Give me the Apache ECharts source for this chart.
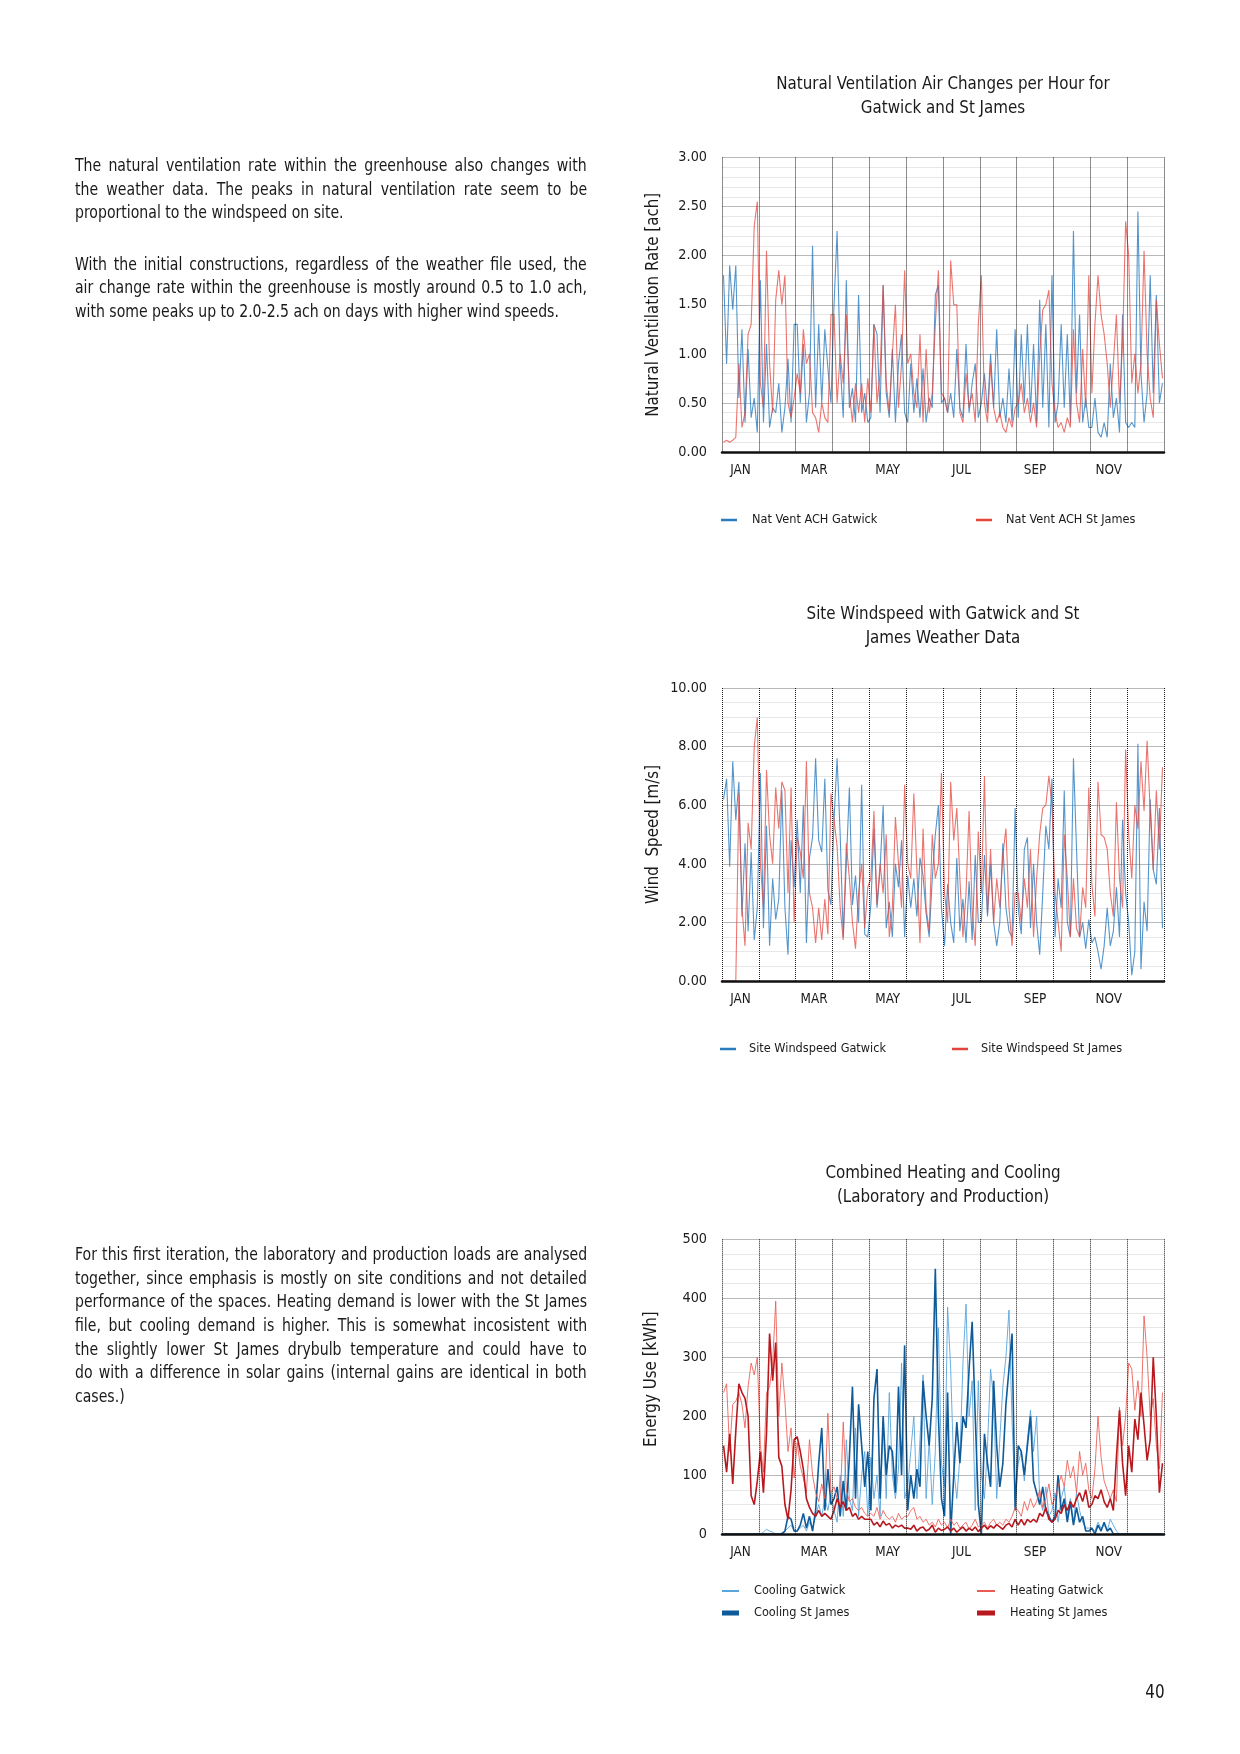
<!DOCTYPE html>
<html>
<head>
<meta charset="utf-8">
<script src="https://cdn.jsdelivr.net/npm/echarts@6/dist/echarts.min.js"></script>
<style>
html,body{margin:0;padding:0;background:#fff;}
#page{position:relative;width:1240px;height:1754px;overflow:hidden;background:#fff;}
#chart{position:absolute;left:0;top:0;width:1240px;height:1754px;}
.para{position:absolute;left:75px;width:512px;color:#1a1a1a;font-size:19px;}
.ln{height:23.6px;line-height:23.6px;white-space:nowrap;}
.ln > span{display:inline-block;transform-origin:0 50%;}
#pnum{position:absolute;left:1125px;width:60px;text-align:center;top:1679px;font-size:21px;line-height:26px;color:#1a1a1a;}
</style>
</head>
<body>
<div id="page">
  <div id="chart"></div>
  <div class="para" style="top:153.2px">
    <div class="ln j"><span>The natural ventilation rate within the greenhouse also changes with</span></div>
    <div class="ln j"><span>the weather data. The peaks in natural ventilation rate seem to be</span></div>
    <div class="ln"><span>proportional to the windspeed on site.</span></div>
  </div>
  <div class="para" style="top:251.7px">
    <div class="ln j"><span>With the initial constructions, regardless of the weather file used, the</span></div>
    <div class="ln j"><span>air change rate within the greenhouse is mostly around 0.5 to 1.0 ach,</span></div>
    <div class="ln"><span>with some peaks up to 2.0-2.5 ach on days with higher wind speeds.</span></div>
  </div>
  <div class="para" style="top:1242.2px">
    <div class="ln j"><span>For this first iteration, the laboratory and production loads are analysed</span></div>
    <div class="ln j"><span>together, since emphasis is mostly on site conditions and not detailed</span></div>
    <div class="ln j"><span>performance of the spaces. Heating demand is lower with the St James</span></div>
    <div class="ln j"><span>file, but cooling demand is higher. This is somewhat incosistent with</span></div>
    <div class="ln j"><span>the slightly lower St James drybulb temperature and could have to</span></div>
    <div class="ln j"><span>do with a difference in solar gains (internal gains are identical in both</span></div>
    <div class="ln"><span>cases.)</span></div>
  </div>
  <div id="pnum">40</div>
</div>
<script>
// ---------------- DATA (12 readings per month, JAN..DEC) ----------------
const MONTHS = ['JAN','FEB','MAR','APR','MAY','JUN','JUL','AUG','SEP','OCT','NOV','DEC'];
const SAMPLES_PER_MONTH = 12;

const achGatwick = [
1.80,0.90,1.90,1.45,1.90,0.55,1.25,0.30,1.05,0.35,0.55,0.20,
1.75,0.30,1.10,0.25,0.45,0.40,0.70,0.20,0.45,0.95,0.30,1.30,
1.30,0.50,1.10,0.30,0.60,2.10,0.45,1.30,0.50,1.25,0.85,0.50,
1.50,2.25,0.90,0.35,1.75,0.45,0.65,0.30,1.60,0.40,0.60,0.30,
0.35,1.30,1.20,0.40,1.70,0.60,0.35,1.05,0.30,0.90,1.20,0.40,
0.30,0.90,0.40,0.75,0.35,0.85,0.30,0.55,0.45,1.60,1.70,0.50,
0.55,0.40,0.60,0.35,1.05,0.45,0.35,1.10,0.40,0.70,0.90,0.35,
0.50,0.80,0.40,1.00,0.45,1.25,0.35,0.55,0.30,0.85,0.30,1.25,
0.35,1.20,0.50,1.30,0.40,1.10,0.30,1.55,0.45,1.30,0.25,1.80,
0.30,0.50,1.30,0.45,1.20,0.30,2.25,0.60,1.40,0.30,0.55,0.25,
0.25,0.55,0.20,0.15,0.30,0.15,0.90,0.35,0.55,0.20,1.40,0.30,
0.25,0.30,0.25,2.45,0.80,0.30,0.60,1.80,0.60,1.60,0.50,0.70];

const achStJames = [
0.10,0.12,0.10,0.12,0.15,0.90,0.25,0.40,1.20,1.30,2.30,2.55,
0.70,0.45,2.05,0.90,0.40,1.55,1.85,1.50,1.80,0.50,0.35,0.55,
0.80,0.60,1.25,0.90,1.00,0.40,0.35,0.20,0.50,0.35,0.30,1.40,
1.40,0.50,1.00,0.70,1.40,0.60,0.30,0.70,0.40,0.70,0.30,0.75,
0.40,1.30,0.50,0.80,1.70,0.70,0.40,1.00,1.50,0.45,0.90,1.85,
0.90,1.00,0.60,0.45,1.20,0.30,1.05,0.40,0.60,1.30,1.85,0.60,
0.55,0.40,1.95,1.50,1.50,0.40,0.30,0.80,0.45,0.60,0.30,1.30,
1.80,0.50,0.30,0.90,0.45,0.30,0.40,0.25,0.20,0.35,0.25,0.45,
0.50,0.70,0.40,0.55,0.30,0.50,0.25,1.00,1.45,1.50,1.65,0.70,
0.40,0.25,0.30,0.20,0.35,0.25,1.25,0.50,0.30,1.05,0.45,1.80,
0.60,1.30,1.80,1.40,1.20,0.90,0.45,0.90,1.40,0.50,1.10,2.35,
2.00,0.70,1.00,0.60,0.90,2.05,1.00,0.55,0.35,1.55,1.10,0.75];

const windGatwick = [
6.20,6.90,3.90,7.50,5.50,6.80,2.20,4.70,1.70,4.40,1.40,2.50,
7.10,1.80,5.30,1.20,3.50,2.10,2.80,6.50,2.50,0.90,4.80,3.20,
5.50,3.00,6.00,1.30,4.20,4.90,7.60,4.80,4.40,6.90,3.10,2.60,
5.50,7.60,5.00,1.50,4.00,6.60,2.60,3.60,2.00,6.70,1.60,1.50,
2.60,5.20,2.50,3.80,6.00,1.80,2.70,1.50,4.00,3.20,4.80,1.50,
3.60,2.50,3.50,2.20,4.20,3.60,2.30,1.50,3.50,5.00,6.00,2.50,
1.20,3.30,2.00,1.30,4.20,1.70,2.80,1.30,3.40,1.40,4.30,2.00,
2.00,4.30,2.20,4.00,2.00,1.20,2.00,4.70,2.50,1.70,1.50,5.90,
2.50,1.60,4.50,4.90,1.80,4.00,2.00,0.90,3.00,5.30,4.50,6.90,
1.50,3.50,2.50,6.50,2.00,1.50,7.60,4.50,1.50,2.00,1.10,2.10,
1.30,1.50,1.00,0.40,1.20,2.50,1.20,1.70,3.20,1.50,5.50,3.00,
2.00,0.20,1.00,8.10,0.40,2.70,1.70,6.20,3.80,3.30,5.90,1.80];

const windStJames = [
0.00,0.00,0.00,0.00,0.00,6.40,2.50,1.20,5.40,4.50,8.00,9.00,
4.00,2.50,7.20,5.00,4.00,6.60,5.20,6.80,6.50,3.00,6.60,2.00,
4.90,4.40,3.50,7.50,3.00,2.50,1.30,2.50,1.40,2.80,1.60,6.40,
5.50,4.60,2.50,1.40,4.70,3.50,2.00,1.10,3.00,4.00,1.80,3.20,
3.50,5.80,2.60,4.00,3.00,5.00,1.50,2.50,5.60,4.00,2.50,6.70,
4.00,3.50,6.40,3.80,1.30,5.20,2.50,1.70,5.00,3.50,4.00,7.10,
3.00,2.00,6.80,4.80,5.90,3.50,1.50,3.00,5.80,2.40,1.20,5.10,
3.00,7.00,2.30,4.50,2.00,3.50,2.50,4.30,5.20,2.50,1.20,3.00,
3.00,2.00,3.50,2.50,4.50,1.50,3.50,5.00,5.90,6.00,7.00,6.00,
3.00,2.00,1.00,5.00,3.50,1.50,3.50,1.80,1.50,3.20,2.50,6.60,
3.30,2.20,6.80,5.00,4.90,4.50,3.00,2.20,6.10,3.50,2.50,7.90,
5.00,3.50,6.00,5.20,7.50,5.80,8.20,5.80,3.80,6.50,4.50,7.30];

const coolGatwick = [
0,0,0,0,0,0,0,0,0,0,0,0,
0,3,8,5,3,0,0,2,5,10,15,5,
5,10,15,5,20,10,30,50,30,60,40,70,
40,20,100,30,160,60,40,180,30,100,140,30,
130,60,100,30,190,60,240,100,60,110,290,60,
80,140,200,60,160,270,60,160,50,140,350,120,
80,385,280,110,60,130,290,390,200,260,40,260,
100,60,150,280,230,60,160,250,300,380,190,60,
120,140,90,160,210,140,200,60,40,80,30,40,
70,20,60,80,30,60,20,70,40,20,10,10,
10,5,20,10,15,5,25,15,5,0,0,0,
0,0,0,0,0,0,0,0,0,0,0,0];

const coolStJames = [
0,0,0,0,0,0,0,0,0,0,0,0,
0,0,0,0,0,0,0,0,5,30,25,5,
5,15,35,10,30,5,40,120,180,40,110,50,
60,80,30,90,40,130,250,60,220,150,80,140,
40,230,280,60,200,100,150,140,70,250,100,320,
40,100,60,110,80,260,200,150,230,450,200,60,
30,240,0,100,190,120,200,180,280,360,200,50,
0,170,120,80,260,150,80,120,220,280,340,40,
150,140,100,150,200,90,70,50,80,40,30,20,
30,100,40,60,20,55,15,45,20,30,5,5,
10,0,15,5,20,5,10,0,0,0,0,0,
0,0,0,0,0,0,0,0,0,0,0,0];

const heatGatwick = [
240,255,140,220,225,240,220,180,250,290,270,300,
150,105,240,250,290,395,200,290,225,140,180,95,
155,115,95,70,160,100,70,55,85,60,205,70,
80,60,50,190,75,55,60,45,40,45,35,30,
35,30,45,25,40,30,25,30,20,35,25,30,
30,40,45,25,30,20,25,15,20,12,25,15,
20,10,25,15,20,10,15,20,8,15,25,12,
15,20,10,20,25,15,20,15,25,20,30,45,
40,30,55,40,60,45,55,75,45,60,85,50,
60,80,100,80,125,95,115,70,140,100,120,75,
60,110,200,130,90,75,60,75,55,215,150,200,
290,280,210,260,200,370,300,200,230,150,110,240];

const heatStJames = [
150,105,170,85,175,255,240,230,200,65,50,90,
140,70,170,340,260,325,130,115,50,25,75,160,
165,140,110,60,45,35,30,40,30,35,30,25,
40,60,45,55,40,45,30,35,25,30,25,25,
25,15,20,12,22,15,18,10,15,12,15,10,
10,8,15,5,10,12,5,8,15,3,10,6,
8,12,5,10,3,8,12,5,10,6,12,4,
10,15,8,14,10,16,12,8,15,18,12,25,
15,25,15,25,20,25,20,35,30,45,25,20,
25,40,35,50,40,55,45,60,70,55,75,45,
50,65,60,75,55,45,60,40,130,210,120,65,
150,105,195,160,240,185,125,160,300,200,70,120];

// ---------------- FONT ----------------
function hasFont(f){
  const c=document.createElement('canvas').getContext('2d');
  const s='abcdefghijklmnopqrstuvwxyz ABCDEFGHIJ 0123456789';
  c.font='40px monospace'; const a=c.measureText(s).width;
  c.font='40px "'+f+'", monospace'; const b=c.measureText(s).width;
  return Math.abs(a-b)>0.5;
}
let FONT, FS=1, SX=1, PFS=19;
if (hasFont('Liberation Sans Narrow')) { FONT='"Liberation Sans Narrow", sans-serif'; }
else if (hasFont('DejaVu Sans Condensed')) { FONT='"DejaVu Sans Condensed", sans-serif'; FS=0.84; SX=0.86; PFS=18.2; }
else { FONT='"Liberation Sans", sans-serif'; FS=0.82; SX=0.84; PFS=18.5; }
const fz = v => Math.round(v*FS*10)/10;

document.querySelectorAll('.para').forEach(el=>{
  el.style.fontFamily=FONT;
  el.style.fontSize = PFS + 'px';
});
const pn=document.getElementById('pnum');
pn.style.fontFamily=FONT; pn.style.fontSize=fz(21/0.9)+'px';
pn.style.transform='scaleX('+SX+')';
document.querySelectorAll('.ln > span').forEach(sp=>{
  sp.style.transform='scaleX('+SX+')';
});
document.querySelectorAll('.ln.j > span').forEach(sp=>{
  const w=sp.offsetWidth;
  const n=(sp.textContent.match(/ /g)||[]).length;
  if(n) sp.style.wordSpacing=((512/SX-w)/n)+'px';
});

// ---------------- CHART ----------------
const TXT='#1a1a1a';
const BLUE='#2b7bbf', RED='#e4463d';
const C_LB='#5aa5dc', C_DB='#0f5a98', H_LR='#ec5b52', H_DR='#b8191f';

function pts(arr){ return arr.map((v,i)=>[(i+0.5)/SAMPLES_PER_MONTH, v]); }

const GRIDS=[
  {left:722, top:157.5, width:442, height:294.5},
  {left:722, top:688, width:442, height:293},
  {left:722, top:1239.3, width:442, height:294.7}
];

function monthAxis(g){
  return {type:'category', gridIndex:g, data:MONTHS, boundaryGap:true, position:'bottom', z:3,
    axisLine:{show:true, lineStyle:{color:'#111', width:2.5}},
    axisTick:{show:false, interval:0},
    axisLabel:{interval:1, margin:12, fontSize:fz(16), color:TXT, fontFamily:FONT},
    splitLine:{show:true, interval:0, lineStyle:{type:'dotted', color:'#1a1a1a', width:1}}};
}
function dataAxis(g){
  return {type:'value', gridIndex:g, min:0, max:12, show:false};
}
function valAxis(g, max, interval, minorN, digits, name, nameGap, pad){
  return {type:'value', gridIndex:g, min:0, max:max, interval:interval,
    name:name, nameLocation:'middle', nameGap:nameGap,
    nameTextStyle:{fontSize:fz(20), color:TXT, fontFamily:FONT, padding:pad||0},
    axisLine:{show:false}, axisTick:{show:false},
    axisLabel:{margin:15, fontSize:fz(17), color:TXT, fontFamily:FONT,
      formatter: v => v.toFixed(digits)},
    splitLine:{show:true, lineStyle:{color:'#b9b9b9', width:1}},
    minorTick:{show:false, splitNumber:minorN},
    minorSplitLine:{show:true, lineStyle:{color:'#e7e7e7', width:1}}};
}
function line(name, arr, g, color, width, opacity, z){
  return {name:name, type:'line', xAxisIndex:g*2+1, yAxisIndex:g, data:pts(arr),
    showSymbol:false, symbol:'none', z:z||2,
    lineStyle:{color:color, width:width, opacity:opacity}, itemStyle:{color:color}};
}
function mkLegend(name, color, x, cy, textX, iconW, iconH){
  const W = textX - x - 5;
  return {left:x, top:cy-9, padding:0, orient:'horizontal', selectedMode:false,
    itemWidth:W, itemHeight:iconH, symbolKeepAspect:false,
    itemStyle:{borderWidth:0},
    textStyle:{fontSize:fz(15), color:TXT, fontFamily:FONT, lineHeight:18},
    data:[{name:name, icon:'path://M0 0H'+iconW+'V1H0Z M'+W+' 0H'+(W+0.01)+'V1H'+W+'Z',
      itemStyle:{color:color, opacity:1, borderWidth:0}}]};
}
function title(text, top){
  return {text:text, left:943, top:top, textAlign:'center', padding:0,
    textStyle:{fontSize:fz(20), fontWeight:'normal', color:TXT, fontFamily:FONT, lineHeight:24}};
}

const chart = echarts.init(document.getElementById('chart'), null, {renderer:'canvas'});
chart.setOption({
  animation:false,
  backgroundColor:'transparent',
  textStyle:{fontFamily:FONT},
  title:[
    title('Natural Ventilation Air Changes per Hour for\nGatwick and St James', 73),
    title('Site Windspeed with Gatwick and St\nJames Weather Data', 603),
    title('Combined Heating and Cooling\n(Laboratory and Production)', 1162)
  ],
  grid:GRIDS.map(g=>Object.assign({containLabel:false}, g)),
  xAxis:[monthAxis(0), dataAxis(0), monthAxis(1), dataAxis(1), monthAxis(2), dataAxis(2)],
  yAxis:[
    valAxis(0, 3, 0.5, 5, 2, 'Natural Ventilation Rate [ach]', 60),
    valAxis(1, 10, 2, 4, 2, 'Wind  Speed [m/s]', 60),
    valAxis(2, 500, 100, 4, 0, 'Energy Use [kWh]', 62, [0,0,0,15])
  ],
  legend:[
    mkLegend('Nat Vent ACH Gatwick', BLUE, 721, 520, 752, 16, 2.5),
    mkLegend('Nat Vent ACH St James', RED, 976, 520, 1006, 16, 2.5),
    mkLegend('Site Windspeed Gatwick', BLUE, 720, 1049, 749, 16, 2.5),
    mkLegend('Site Windspeed St James', RED, 952, 1049, 981, 16, 2.5),
    mkLegend('Cooling Gatwick', C_LB, 722, 1591, 754, 17, 2),
    mkLegend('Cooling St James', C_DB, 722, 1613, 754, 17, 5),
    mkLegend('Heating Gatwick', H_LR, 977, 1591, 1010, 18, 2),
    mkLegend('Heating St James', H_DR, 977, 1613, 1010, 18, 5)
  ],
  series:[
    line('Nat Vent ACH Gatwick', achGatwick, 0, BLUE, 1.1, 0.8),
    line('Nat Vent ACH St James', achStJames, 0, RED, 1.1, 0.75),
    line('Site Windspeed Gatwick', windGatwick, 1, BLUE, 1.1, 0.8),
    line('Site Windspeed St James', windStJames, 1, RED, 1.1, 0.75),
    line('Cooling Gatwick', coolGatwick, 2, C_LB, 1, 0.9),
    line('Cooling St James', coolStJames, 2, C_DB, 1.6, 1),
    line('Heating Gatwick', heatGatwick, 2, H_LR, 1, 0.85),
    line('Heating St James', heatStJames, 2, H_DR, 1.6, 1)
  ]
});
</script>
</body>
</html>
